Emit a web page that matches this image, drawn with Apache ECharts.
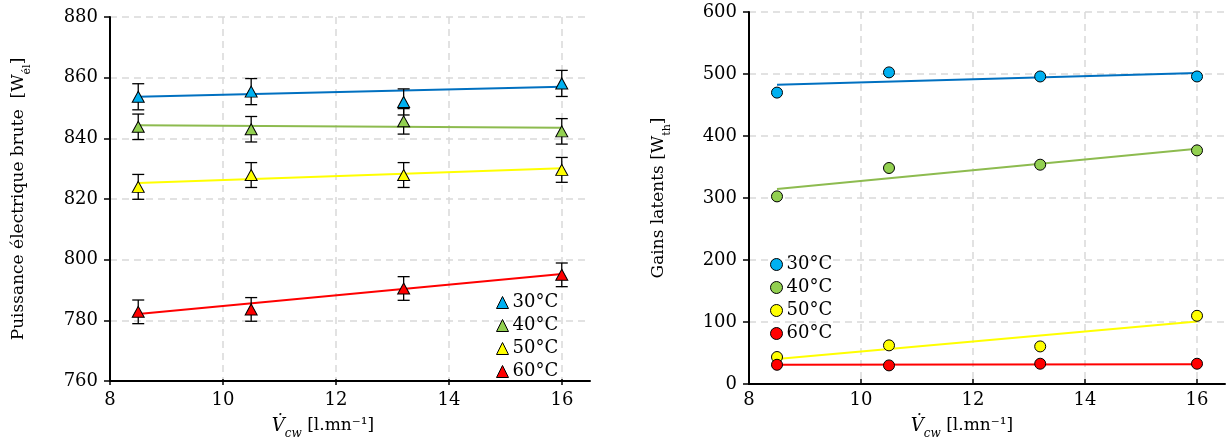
<!DOCTYPE html>
<html><head><meta charset="utf-8">
<script src="https://cdn.jsdelivr.net/npm/echarts@6/dist/echarts.min.js"></script>
<style>html,body{margin:0;padding:0;background:#fff}#c{width:1227px;height:445px}</style>
</head><body><div id="c"></div>
<script>
// ---- data ----
const xVals = [8.5, 10.5, 13.2, 16];
const trendX = [8.5, 16];
const seriesNames = ['30°C', '40°C', '50°C', '60°C'];
const fillColors = ['#00B0F0', '#92D050', '#FFFF00', '#FF0000'];
const lineColors = ['#0070C0', '#8DBB4F', '#FFFF00', '#FF0000'];

const power30 = [853.7, 855.4, 852.0, 858.1];
const power40 = [843.8, 843.0, 845.6, 842.3];
const power50 = [824.0, 827.9, 827.9, 829.6];
const power60 = [782.8, 783.6, 790.5, 795.0];
const powerErr = [4.3, 4.2, 4.1, 3.9];
const powerTrend30 = [853.7, 857.0];
const powerTrend40 = [844.3, 843.5];
const powerTrend50 = [825.3, 830.1];
const powerTrend60 = [782.1, 795.3];

const gains30 = [470, 502.6, 496, 496];
const gains40 = [302.6, 348.4, 353.7, 376.8];
const gains50 = [43.5, 62.3, 60.6, 110];
const gains60 = [31, 30, 32.7, 32.7];
const gainsTrend30 = [482.7, 501.6];
const gainsTrend40 = [314.5, 379.5];
const gainsTrend50 = [40.3, 101];
const gainsTrend60 = [31, 32];

const xRange = [8, 16.5, 2];
const xTickRange = [8, 16, 2];
const yPower = [760, 880, 20];
const yGains = [0, 600, 100];

// ---- build ----
const FONT = 'DejaVu Serif';
const power = [power30, power40, power50, power60];
const powerTr = [powerTrend30, powerTrend40, powerTrend50, powerTrend60];
const gains = [gains30, gains40, gains50, gains60];
const gainsTr = [gainsTrend30, gainsTrend40, gainsTrend50, gainsTrend60];

const gridLine = {show: true, lineStyle: {color: '#D9D9D9', type: [7, 5], width: 1.5}};
const axisBlack = {show: true, lineStyle: {color: '#000', width: 2}};
const tickBlack = {show: true, length: 6, lineStyle: {color: '#000', width: 1.5}};
const labelStyle = {color: '#000', fontFamily: FONT, fontSize: 18};

const xName = '{v|V̇}{s|cw} {n|[l.mn⁻¹]}';
function xNameStyle(shift) {
  return {
    color: '#000', fontFamily: FONT, fontSize: 17, padding: [0, shift, 0, 0],
    rich: {
      v: {fontFamily: FONT, fontSize: 18, fontStyle: 'italic', verticalAlign: 'top', lineHeight: 19},
      s: {fontFamily: FONT, fontSize: 12, fontStyle: 'italic', verticalAlign: 'bottom', lineHeight: 23},
      n: {fontFamily: FONT, fontSize: 17, verticalAlign: 'top', lineHeight: 19}
    }
  };
}
function yNameStyle() {
  return {
    color: '#000', fontFamily: FONT, fontSize: 17,
    rich: {
      n: {fontFamily: FONT, fontSize: 17, verticalAlign: 'top', lineHeight: 18},
      s: {fontFamily: FONT, fontSize: 11, verticalAlign: 'bottom', lineHeight: 23}
    }
  };
}

function mainX(gi) {
  return {gridIndex: gi, type: 'value', min: xRange[0], max: xRange[1], interval: xRange[2],
    axisLine: axisBlack, axisTick: {show: false}, axisLabel: {show: false}, splitLine: {show: false}};
}
function gridX(gi, shift) {
  return {gridIndex: gi, type: 'value', min: xTickRange[0], max: xTickRange[1], interval: xTickRange[2],
    axisLine: {show: false}, axisTick: tickBlack,
    axisLabel: Object.assign({margin: 12}, labelStyle),
    splitLine: gridLine,
    name: xName, nameLocation: 'middle', nameGap: 38, nameTextStyle: xNameStyle(shift)};
}
function mainY(gi, r, name, gap) {
  return {gridIndex: gi, type: 'value', min: r[0], max: r[1], interval: r[2],
    axisLine: axisBlack, axisTick: tickBlack, axisLabel: Object.assign({margin: 12}, labelStyle),
    splitLine: gridLine, name: name, nameLocation: 'middle', nameGap: gap, nameTextStyle: yNameStyle()};
}
function hiddenY(gi, r) {
  return {gridIndex: gi, type: 'value', min: r[0], max: r[1], interval: r[2], show: false, splitLine: {show: false}};
}

const series = [];
function errRender(params, api) {
  const x = api.value(0), y = api.value(1), e = api.value(2);
  const top = api.coord([x, y + e]), bot = api.coord([x, y - e]);
  const w = 6;
  const st = {stroke: '#000', lineWidth: 1.3};
  return {type: 'group', children: [
    {type: 'line', shape: {x1: top[0], y1: top[1], x2: bot[0], y2: bot[1]}, style: st},
    {type: 'line', shape: {x1: top[0] - w, y1: top[1], x2: top[0] + w, y2: top[1]}, style: st},
    {type: 'line', shape: {x1: bot[0] - w, y1: bot[1], x2: bot[0] + w, y2: bot[1]}, style: st}
  ]};
}
for (let i = 0; i < 4; i++) {
  series.push({type: 'line', xAxisIndex: 0, yAxisIndex: 0, showSymbol: false, silent: true, z: 2,
    lineStyle: {color: lineColors[i], width: 2}, data: trendX.map((x, k) => [x, powerTr[i][k]])});
  series.push({type: 'custom', xAxisIndex: 0, yAxisIndex: 0, z: 3, renderItem: errRender,
    data: xVals.map((x, k) => [x, power[i][k], powerErr[i]])});
  series.push({type: 'scatter', name: seriesNames[i], xAxisIndex: 0, yAxisIndex: 0, z: 4,
    symbol: 'triangle', symbolSize: [12, 11],
    itemStyle: {color: fillColors[i], borderColor: '#000', borderWidth: 1, opacity: 1},
    data: xVals.map((x, k) => [x, power[i][k]])});
}
for (let i = 0; i < 4; i++) {
  series.push({type: 'line', xAxisIndex: 2, yAxisIndex: 2, showSymbol: false, silent: true, z: 2,
    lineStyle: {color: lineColors[i], width: 2}, data: trendX.map((x, k) => [x, gainsTr[i][k]])});
  series.push({type: 'scatter', name: seriesNames[i], xAxisIndex: 2, yAxisIndex: 2, z: 4,
    symbol: 'circle', symbolSize: 11,
    itemStyle: {color: fillColors[i], borderColor: '#000', borderWidth: 1, opacity: 1},
    data: xVals.map((x, k) => [x, gains[i][k]])});
}

const legendBase = {orient: 'vertical', itemWidth: 12, itemHeight: 12, itemGap: 4, itemStyle: {borderColor: '#000', borderWidth: 1},
  textStyle: {fontFamily: FONT, fontSize: 18, color: '#000', lineHeight: 19, padding: [0, 0, 0, -1]}, selectedMode: false};

const option = {
  animation: false,
  backgroundColor: '#fff',
  grid: [
    {left: 110, top: 17, width: 480, height: 364},
    {left: 110, top: 17, width: 452, height: 364},
    {left: 749, top: 12, width: 476, height: 372},
    {left: 749, top: 12, width: 448, height: 372}
  ],
  xAxis: [mainX(0), gridX(1, 26), mainX(2), gridX(3, 22)],
  yAxis: [
    mainY(0, yPower, '{n|Puissance électrique brute  [W}{s|él}{n|]}', 77),
    hiddenY(1, yPower),
    mainY(2, yGains, '{n|Gains latents [W}{s|th}{n|]}', 76),
    hiddenY(3, yGains)
  ],
  legend: [
    Object.assign({}, legendBase, {left: 491, top: 288, data: seriesNames.map(n => ({name: n, icon: 'triangle'}))}),
    Object.assign({}, legendBase, {left: 765, top: 250, data: seriesNames.map(n => ({name: n, icon: 'circle'}))})
  ],
  series: series
};
const chart = echarts.init(document.getElementById('c'), null, {renderer: 'canvas'});
chart.setOption(option);
</script></body></html>
